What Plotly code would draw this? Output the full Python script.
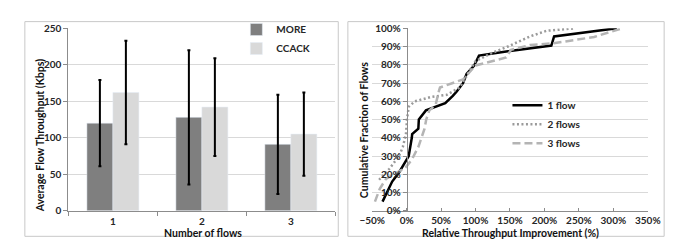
import plotly.graph_objects as go

W, H = 673, 240

# ---- data: left bar chart ----
flows = ["1", "2", "3"]
more_vals = [120, 128, 91]
more_err = [59, 92, 68]
ccack_vals = [162, 142, 105]
ccack_err = [71, 67, 57]
bar_ticks = [0, 50, 100, 150, 200, 250]

# ---- data: right CDF chart (percent) ----
flow1_x = [-35, -27, -21, -11, -3, 3, 7.5, 8, 17, 17.7, 28, 42, 56, 67, 73, 82, 87, 98, 105, 147, 179, 210, 214, 305]
flow1_y = [5, 11, 16, 21, 26, 30, 40, 42, 45, 50, 55, 57, 59, 63, 65.5, 70, 75, 79.6, 85, 87.4, 89, 90.5, 95.5, 100]
flow2_x = [-40, -25, -11, -5.5, -1, 0.5, 3, 12, 35, 58, 77, 93, 100, 124, 147, 179, 203, 245]
flow2_y = [17, 23, 30, 35, 42, 50, 57, 60, 62.3, 63.5, 67.5, 78, 82, 86.5, 90, 95.5, 98.6, 100]
flow3_x = [-46, -39, -30, -13, -2, 7.5, 17, 26, 28.4, 33, 42, 47, 48.4, 67, 82, 100, 144.5, 151.5, 179, 212, 272, 295.5, 314]
flow3_y = [5, 12, 17.5, 21, 23.5, 28, 35, 45, 50, 55, 58, 65.8, 67.5, 70, 72, 79.6, 84, 88.2, 90.8, 91.7, 95.2, 98, 100]

FONT = "Lato"
TXT = "#262626"

def px(x):
    return x / W

def py(y):
    return 1 - y / H

fig = go.Figure()

fig.add_trace(go.Bar(
    x=flows, y=more_vals, name="MORE", marker_color="#7f7f7f",
    error_y=dict(type="data", array=more_err, color="black", thickness=2, width=1.5),
    xaxis="x", yaxis="y", legend="legend",
))
fig.add_trace(go.Bar(
    x=flows, y=ccack_vals, name="CCACK", marker_color="#d9d9d9",
    error_y=dict(type="data", array=ccack_err, color="black", thickness=2, width=1.5),
    xaxis="x", yaxis="y", legend="legend",
))

fig.add_trace(go.Scatter(
    x=flow1_x, y=flow1_y, mode="lines", name="1 flow",
    line=dict(color="black", width=2.5), xaxis="x2", yaxis="y2", legend="legend2",
))
fig.add_trace(go.Scatter(
    x=flow2_x, y=flow2_y, mode="lines", name="2 flows",
    line=dict(color="#9a9a9a", width=2.5, dash="2px,2.5px"), xaxis="x2", yaxis="y2", legend="legend2",
))
fig.add_trace(go.Scatter(
    x=flow3_x, y=flow3_y, mode="lines", name="3 flows",
    line=dict(color="#b4b4b4", width=2.5, dash="8px,4px"), xaxis="x2", yaxis="y2", legend="legend2",
))

tickfont = dict(family=FONT, size=10, color=TXT, weight="bold")
titlefont = dict(family=FONT, size=10.5, color="#111111", weight="bold")
legfont = dict(family=FONT, size=10, color=TXT, weight="bold")

fig.update_layout(
    width=W, height=H,
    margin=dict(l=0, r=0, t=0, b=0),
    paper_bgcolor="white", plot_bgcolor="white",
    barmode="group", bargap=0.416, bargroupgap=0,
    font=dict(family=FONT, color=TXT),
    xaxis=dict(
        domain=[px(49.3), px(327)], anchor="y", type="category", range=[-0.5, 2.5],
        showline=True, linecolor="#8c8c8c", linewidth=1,
        ticks="outside", ticklen=4, tickcolor="#8c8c8c", tickson="boundaries",
        ticklabelstandoff=1,
        tickfont=tickfont, showgrid=False,
    ),
    yaxis=dict(
        domain=[py(207), py(14)], anchor="x", range=[0, 250], tickvals=bar_ticks,
        showline=True, linecolor="#8c8c8c", linewidth=1,
        ticks="outside", ticklen=4, tickcolor="#8c8c8c",
        showgrid=True, gridcolor="#d9d9d9", gridwidth=1, zeroline=False,
        tickfont=tickfont,
    ),
    xaxis2=dict(
        domain=[px(365.3), px(652)], anchor="y2", range=[-50, 350], dtick=50,
        ticksuffix="%", showline=True, linecolor="#8c8c8c", linewidth=1,
        ticks="inside", ticklen=3, tickcolor="#8c8c8c",
        showgrid=False, zeroline=False, tickfont=tickfont,
    ),
    yaxis2=dict(
        domain=[py(207), py(14)], anchor="free", position=px(401.3), range=[0, 100], dtick=10,
        ticksuffix="%", showline=True, linecolor="#8c8c8c", linewidth=1,
        ticks="outside", ticklen=4, tickcolor="#8c8c8c",
        showgrid=True, gridcolor="#d9d9d9", gridwidth=1, zeroline=False,
        tickfont=tickfont,
    ),
    legend=dict(
        x=px(224), y=py(0), xanchor="left", yanchor="top",
        font=legfont, bgcolor="rgba(0,0,0,0)", tracegroupgap=0, itemwidth=30,
    ),
    legend2=dict(
        x=px(506), y=py(80), xanchor="left", yanchor="top",
        font=legfont, bgcolor="rgba(0,0,0,0)", itemwidth=30,
    ),
    showlegend=True,
)

# axis titles as annotations for exact placement
titles = [
    ("Average Flow Throughput (Kbps)", 20, 127, -90),
    ("Cumulative Fraction of Flows", 357, 121.5, -90),
    ("Number of flows", 189, 230.5, 0),
    ("Relative Throughput Improvement (%)", 509, 230, 0),
]
for text, tx, ty, ang in titles:
    fig.add_annotation(
        text=text, textangle=ang, x=px(tx), y=py(ty), xref="paper", yref="paper",
        showarrow=False, font=titlefont, xanchor="center", yanchor="middle",
    )

# panel borders
for x0, x1 in [(4, 330), (340, 669)]:
    fig.add_shape(type="rect", xref="paper", yref="paper",
                  x0=px(x0), x1=px(x1), y0=py(234), y1=py(7),
                  line=dict(color="#c8c8c8", width=1), layer="below")

fig.write_html("out.html")
